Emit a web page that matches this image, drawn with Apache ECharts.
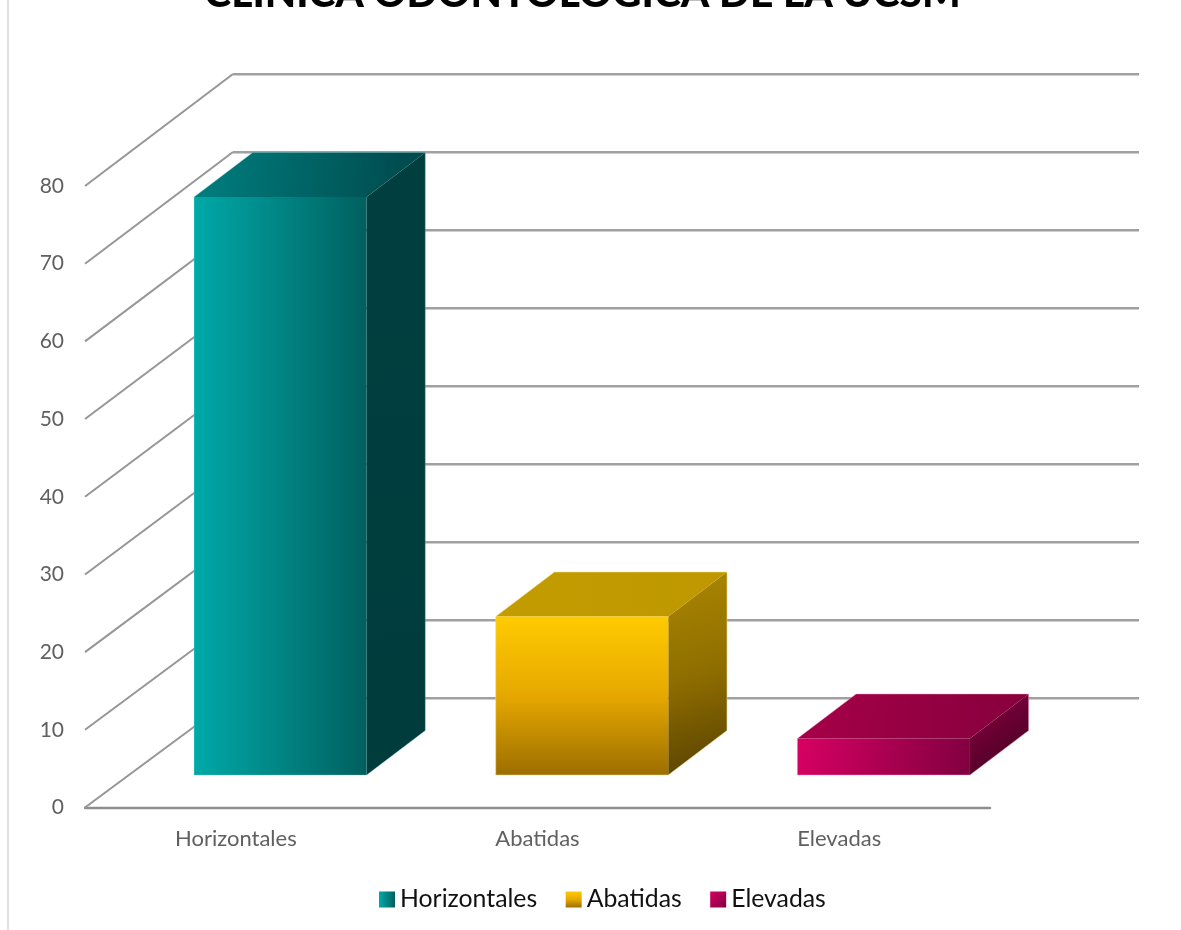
<!DOCTYPE html>
<html>
<head>
<meta charset="utf-8">
<title>Clinica Odontologica de la UCSM</title>
<style>
  html, body { margin: 0; padding: 0; background: #fff; overflow: hidden; }
  #chart { width: 1181px; height: 930px; }
</style>
<script src="https://cdn.jsdelivr.net/npm/echarts@6/dist/echarts.min.js"></script>
</head>
<body>
<div id="chart"></div>
<script>
const titleText = 'CLINICA ODONTOLOGICA DE LA UCSM';
const categories = ['Horizontales', 'Abatidas', 'Elevadas'];
const values = [74.4, 20.4, 4.7];
const yTicks = [0, 10, 20, 30, 40, 50, 60, 70, 80];

// Oblique projection: how far the back wall sits from the front plane
const WALL_DX = 148, WALL_DY = -109.5, WALL_STRETCH = 1.004;
const WALL_RIGHT = 1139;
// Column placement inside the floor depth
const BAR_SHIFT_X = 44.5, BAR_SHIFT_Y = -32.5;
const BAR_DX = 58.7, BAR_DY = -44.5, BAR_WIDTH_RATIO = 0.572;

const grad = (x2, y2, ...colors) => ({
  type: 'linear', x: 0, y: 0, x2, y2,
  colorStops: colors.map((color, i) => ({ offset: i / (colors.length - 1), color }))
});

const palettes = [
  { front: grad(1, 0, '#00a9a9', '#00605f'), top: grad(1, 0.6, '#007f80', '#00474a'),
    side: grad(1, 1, '#003f40', '#003c3c'), edge: 'rgba(120,215,215,0.3)' },
  { front: grad(0, 1, '#ffcb00', '#e6a800', '#9c6e00'), top: grad(1, 0, '#c29c00', '#bf9800'),
    side: grad(1, 1, '#ab8700', '#8f6e00', '#574000'), edge: 'rgba(245,220,140,0.5)' },
  { front: grad(1, 1, '#d80064', '#800040'), top: grad(1, 0.6, '#a60049', '#86003c'),
    side: grad(1, 1, '#8e0042', '#3c001f'), edge: 'rgba(245,160,195,0.45)' }
];

// Back-wall grid: a diagonal on the side wall and a horizontal on the back wall per tick
function renderWall(params, api) {
  const tick = api.value(0);
  const front = api.coord([0, tick]);
  const base = api.coord([0, 0]);
  const x0 = params.coordSys.x;
  const backY = base[1] + WALL_DY - (base[1] - front[1]) * WALL_STRETCH;
  return {
    type: 'group',
    children: [
      { type: 'line', shape: { x1: x0, y1: front[1], x2: x0 + WALL_DX, y2: backY },
        style: { stroke: '#969696', lineWidth: 2 } },
      { type: 'line', shape: { x1: x0 + WALL_DX, y1: backY + 0.3, x2: WALL_RIGHT, y2: backY + 0.3 },
        style: { stroke: '#a0a0a0', lineWidth: 2.4 } }
    ]
  };
}

// One extruded column: side and top faces, front face, then a faint outer outline
function makeColumn(idx) {
  const p = palettes[idx];
  return function (params, api) {
    const cat = api.value(0);
    const low = api.coord([cat, 0]);
    const high = api.coord([cat, api.value(1)]);
    const w = api.size([1, 0])[0] * BAR_WIDTH_RATIO;
    const l = low[0] + BAR_SHIFT_X - w / 2, r = l + w;
    const b = low[1] + BAR_SHIFT_Y, t = high[1] + BAR_SHIFT_Y;
    const face = (points, fill) => ({ type: 'polygon', shape: { points }, style: { fill } });
    return {
      type: 'group',
      children: [
        face([[r, b], [r + BAR_DX, b + BAR_DY], [r + BAR_DX, t + BAR_DY], [r, t]], p.side),
        face([[l, t], [r, t], [r + BAR_DX, t + BAR_DY], [l + BAR_DX, t + BAR_DY]], p.top),
        face([[l, b], [r, b], [r, t], [l, t]], p.front),
        {
          type: 'polygon',
          shape: { points: [[l, b], [r, b], [r + BAR_DX, b + BAR_DY], [r + BAR_DX, t + BAR_DY], [l + BAR_DX, t + BAR_DY], [l, t]] },
          style: { fill: 'none', stroke: p.edge, lineWidth: 1 }
        }
      ]
    };
  };
}

const uiFont = 'Lato, "Open Sans", sans-serif';
const chart = echarts.init(document.getElementById('chart'), null, { renderer: 'canvas' });

chart.setOption({
  animation: false,
  backgroundColor: '#ffffff',
  title: {
    text: titleText,
    left: 577.5,
    textAlign: 'center',
    top: -32,
    textStyle: { fontFamily: uiFont, fontWeight: 900, fontSize: 40.7, color: '#000000' }
  },
  grid: { left: 85, top: 186, width: 905, height: 621.5 },
  xAxis: {
    type: 'category',
    data: categories,
    axisLine: { lineStyle: { color: '#8e8e8e', width: 2.4 } },
    axisTick: { show: false },
    axisLabel: { color: '#606060', fontFamily: uiFont, fontSize: 22, margin: 20 }
  },
  yAxis: {
    type: 'value',
    min: 0,
    max: 80,
    interval: 10,
    axisLine: { show: false },
    axisTick: { show: false },
    splitLine: { show: false },
    axisLabel: { color: '#606060', fontFamily: uiFont, fontSize: 21, margin: 21, padding: [4, 0, 0, 0] }
  },
  legend: {
    data: categories,
    left: 374,
    top: 882,
    icon: 'rect',
    itemWidth: 16,
    itemHeight: 16,
    itemGap: 28.5,
    textStyle: { color: '#111111', fontFamily: uiFont, fontSize: 24.8 }
  },
  graphic: [{
    type: 'line',
    shape: { x1: 8, y1: 0, x2: 8, y2: 930 },
    style: { stroke: '#d9d9d9', lineWidth: 1.6 },
    silent: true
  }],
  series: [
    {
      name: 'grid-wall',
      type: 'custom',
      silent: true,
      clip: false,
      z: 1,
      data: yTicks.map(t => [t]),
      encode: { y: 0 },
      renderItem: renderWall
    },
    ...categories.map((name, i) => ({
      name,
      type: 'custom',
      clip: false,
      z: 3,
      itemStyle: { color: palettes[i].front },
      data: [[name, values[i]]],
      encode: { x: 0, y: 1 },
      renderItem: makeColumn(i)
    }))
  ]
});
</script>
</body>
</html>
